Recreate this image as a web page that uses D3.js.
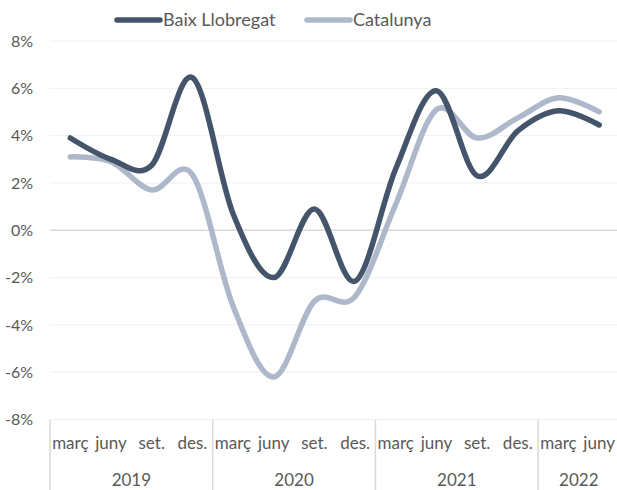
<!DOCTYPE html>
<html>
<head>
<meta charset="utf-8">
<script src="https://cdn.jsdelivr.net/npm/d3@7"></script>
<style>
  body { margin: 0; background: #fff; }
  svg text { font-family: Lato, "Open Sans", sans-serif; fill: #595959; }
</style>
</head>
<body>
<div id="chart"></div>
<script>
// quarterly values, 2019 Q1 .. 2022 Q2
var quarterNames = ["març", "juny", "set.", "des."];
var years = ["2019", "2020", "2021", "2022"];
var quartersPerYear = [4, 4, 4, 2];
var baix = [3.9, 3.0, 2.75, 6.45, 0.7, -2.0, 0.9, -2.15, 2.6, 5.9, 2.3, 4.2, 5.05, 4.45];
var catalunya = [3.1, 2.9, 1.7, 2.35, -3.2, -6.2, -3.0, -2.8, 1.1, 5.1, 3.9, 4.75, 5.6, 5.0];
var yTicks = [-8, -6, -4, -2, 0, 2, 4, 6, 8];

var series = [
    { name: "Baix Llobregat", values: baix, color: "#44546a" },
    { name: "Catalunya", values: catalunya, color: "#adb9ca" }
];

var width = 617, height = 490;
var plotLeft = 50, plotRight = 619.5, plotTop = 41, plotBottom = 419.5;

// one key per quarter
var periods = [];
years.forEach(function (yr, i) {
    for (var q = 0; q < quartersPerYear[i]; q++) periods.push(yr + "-" + q);
});

var x = d3.scaleBand().domain(periods).range([plotLeft, plotRight]);
var y = d3.scaleLinear().domain([-8, 8]).range([plotBottom, plotTop]);

var svg = d3.select("#chart").append("svg")
    .attr("width", width)
    .attr("height", height);

// gridlines
svg.append("g").selectAll("line")
    .data(yTicks)
    .enter().append("line")
    .attr("x1", plotLeft).attr("x2", width)
    .attr("y1", function (d) { return y(d); })
    .attr("y2", function (d) { return y(d); })
    .attr("stroke", function (d) { return d === 0 ? "#d9d9d9" : "#f0f0f0"; })
    .attr("stroke-width", function (d) { return d === 0 ? 1.5 : 1; });

// y axis labels
var yAxis = svg.append("g")
    .attr("transform", "translate(33,0)")
    .call(d3.axisLeft(y).tickValues(yTicks).tickSize(0).tickPadding(0)
        .tickFormat(function (d) { return d + "%"; }));
yAxis.select(".domain").remove();
yAxis.selectAll("text").style("font-size", "16px").style("font-family", null).attr("fill", null);

// quarter labels
var xAxis = svg.append("g")
    .attr("transform", "translate(0," + plotBottom + ")")
    .call(d3.axisBottom(x).tickSize(0).tickPadding(17)
        .tickFormat(function (d) { return quarterNames[+d.split("-")[1]]; }));
xAxis.select(".domain").remove();
xAxis.selectAll("text").style("font-size", "17px").style("font-family", null).attr("fill", null);

// year labels and group separators
var start = 0;
years.forEach(function (yr, i) {
    var first = periods[start], last = periods[start + quartersPerYear[i] - 1];
    var x0 = x(first), x1 = x(last) + x.bandwidth();
    svg.append("text")
        .attr("x", (x0 + x1) / 2)
        .attr("y", 486)
        .attr("text-anchor", "middle")
        .style("font-size", "17px")
        .text(yr);
    svg.append("line")
        .attr("x1", x0).attr("x2", x0)
        .attr("y1", plotBottom).attr("y2", height)
        .attr("stroke", "#d9d9d9").attr("stroke-width", 1.5);
    start += quartersPerYear[i];
});

// lines
var line = d3.line()
    .x(function (d, i) { return x(periods[i]) + x.bandwidth() / 2; })
    .y(function (d) { return y(d); })
    .curve(d3.curveCatmullRom.alpha(0));

series.slice().reverse().forEach(function (s) {
    svg.append("path")
        .datum(s.values)
        .attr("d", line)
        .attr("fill", "none")
        .attr("stroke", s.color)
        .attr("stroke-width", 5.5)
        .attr("stroke-linecap", "round")
        .attr("stroke-linejoin", "round");
});

// legend
var legendX = [115, 305];
var legend = svg.append("g").selectAll("g")
    .data(series)
    .enter().append("g")
    .attr("transform", function (d, i) { return "translate(" + legendX[i] + ",20)"; });
legend.append("line")
    .attr("x1", 2).attr("x2", 45)
    .attr("stroke", function (d) { return d.color; })
    .attr("stroke-width", 5.5)
    .attr("stroke-linecap", "round");
legend.append("text")
    .attr("x", 48)
    .attr("dy", "0.35em")
    .style("font-size", "18px")
    .text(function (d) { return d.name; });
</script>
</body>
</html>
